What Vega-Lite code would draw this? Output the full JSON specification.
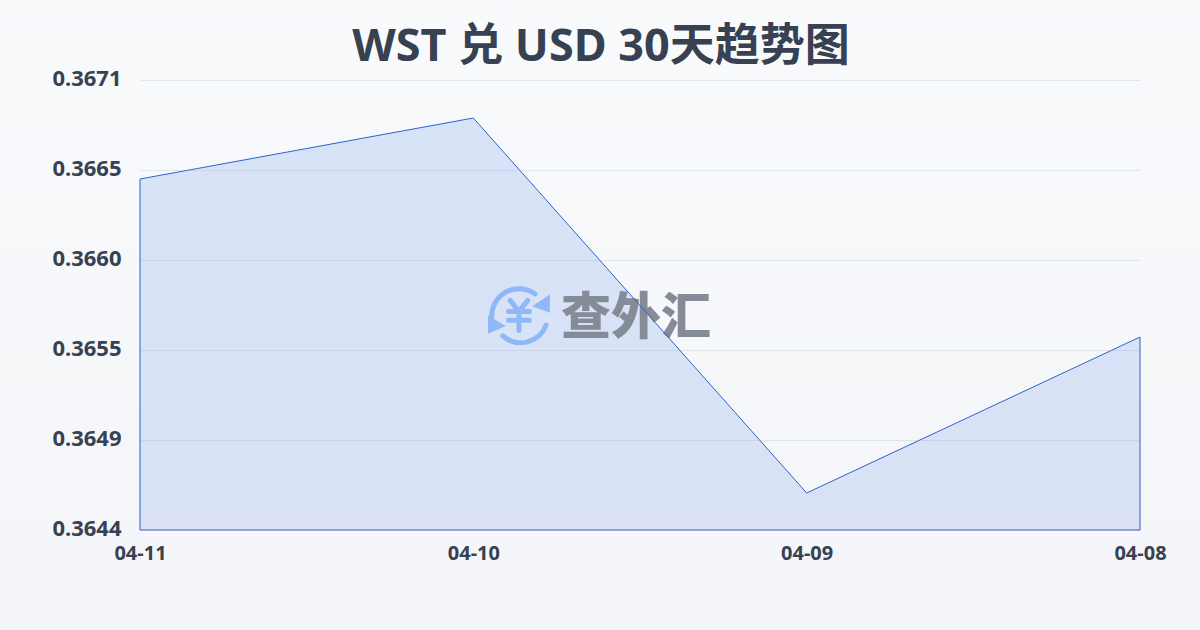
{
"$schema":"https://vega.github.io/schema/vega-lite/v6.json",
"width":1000,"height":450,
"autosize":{"type":"none"},
"padding":{"left":140,"top":80,"right":60,"bottom":100},
"background":"#f6f7fa",
"title":{"text":"WST 兑 USD 30天趋势图","anchor":"middle","font":"Noto Sans, Noto Sans CJK SC","fontSize":45,"fontWeight":"bold","color":"#374151","offset":8,"dy":78,"dx":-39},
"config":{"view":{"stroke":null}},
"datasets":{
"rates":[{"date":"2025-04-11","rate":0.366486},{"date":"2025-04-10","rate":0.366852},{"date":"2025-04-09","rate":0.364602},{"date":"2025-04-08","rate":0.365538}],
"mark":[{"date":"2025-04-09T12:17:00","rate":0.365646,"name":"查外汇"}],
"logo":[{"date":"2025-04-09T20:43:00","rate":0.36567}]
},
"layer":[
{"data":{"values":[{"panel":"background"}]},
"mark":{"type":"rect","clip":false,"fill":{"gradient":"linear","x1":0,"y1":0,"x2":0,"y2":1,"stops":[{"offset":0,"color":"#f9fafc"},{"offset":1,"color":"#f3f5f8"}]}},
"encoding":{"x":{"datum":{"year":2025,"month":4,"date":11,"hours":10,"minutes":5},"type":"temporal"},"x2":{"datum":{"year":2025,"month":4,"date":7,"hours":19,"minutes":41}},"y":{"datum":0.36756,"type":"quantitative"},"y2":{"datum":0.36378}}},
{"data":{"name":"rates"},
"mark":{"type":"area","fill":{"gradient":"linear","x1":0,"y1":0,"x2":0,"y2":1,"stops":[{"offset":0,"color":"#d7e3f8"},{"offset":1,"color":"#dae1f4"}]},"stroke":null},
"encoding":{
"x":{"field":"date","type":"temporal","scale":{"reverse":true,"domain":["2025-04-08","2025-04-11"]},"axis":{"values":["2025-04-11","2025-04-10","2025-04-09","2025-04-08"],"format":"%m-%d","title":null,"grid":false,"domain":false,"ticks":false,"labelFont":"Noto Sans, Noto Sans CJK SC","labelFontSize":20,"labelFontWeight":"bold","labelColor":"#374151","labelPadding":13,"labelFlush":false,"zindex":1}},
"y":{"field":"rate","type":"quantitative","stack":null,"scale":{"domain":[0.36438,0.36708],"zero":false,"nice":false},"axis":{"values":[0.36438,0.36492,0.36546,0.366,0.36654,0.36708],"format":".4f","title":null,"domain":false,"ticks":false,"labelFont":"Noto Sans, Noto Sans CJK SC","labelFontSize":22,"labelFontWeight":"bold","labelColor":"#374151","labelPadding":19,"labelBaseline":"middle","labelOffset":-2,"grid":true,"gridColor":"#8f9bb3","gridOpacity":0.2,"gridWidth":1,"zindex":1}},
"y2":{"datum":0.36438}
}},
{"data":{"name":"logo"},
"mark":{"type":"point","shape":"M-0.93 0.1A0.93 0.93 0 0 1 0.55 -0.72M0.93 0.35A0.93 0.93 0 0 1 -0.55 0.72M-0.3 -0.5L0 -0.12L0.3 -0.5M-0.36 -0.12H0.36M-0.36 0.18H0.36M0 -0.12V0.53","size":3400,"filled":false,"stroke":"#8fb8f8","strokeWidth":5,"strokeCap":"round","opacity":1},
"encoding":{"x":{"field":"date","type":"temporal"},"y":{"field":"rate","type":"quantitative"}}},
{"data":{"name":"logo"},
"mark":{"type":"point","shape":"M1.06 -0.7L1.06 -0.08L0.45 -0.3ZM-1.06 0.02L-1.06 0.64L-0.45 0.38Z","size":3400,"filled":true,"fill":"#8fb8f8","opacity":1},
"encoding":{"x":{"field":"date","type":"temporal"},"y":{"field":"rate","type":"quantitative"}}},
{"data":{"name":"mark"},
"mark":{"type":"text","font":"Noto Sans CJK SC","fontSize":50,"fontWeight":900,"fill":"#858b97","align":"center","baseline":"middle"},
"encoding":{"x":{"field":"date","type":"temporal"},"y":{"field":"rate","type":"quantitative"},"text":{"field":"name"}}},
{"data":{"name":"rates"},
"mark":{"type":"area","fillOpacity":0,"stroke":"#2f62cc","strokeWidth":1},
"encoding":{"x":{"field":"date","type":"temporal"},"y":{"field":"rate","type":"quantitative","stack":null},"y2":{"datum":0.36438}}}
]
}
